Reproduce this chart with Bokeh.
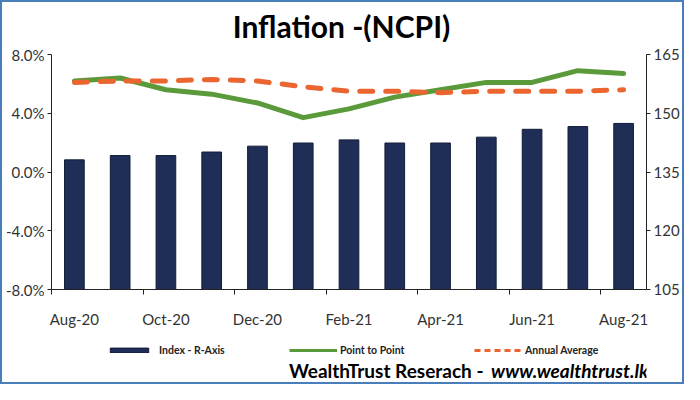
from bokeh.plotting import figure
from bokeh.layouts import column
from bokeh.models import (Range1d, LinearAxis, FixedTicker, PrintfTickFormatter, Label,
                          Legend, LegendItem, ColumnDataSource, CustomJSTickFormatter)
from bokeh.embed import file_html
from bokeh.resources import INLINE

# ---------------- data ----------------
months = ["Aug-20", "Sep-20", "Oct-20", "Nov-20", "Dec-20", "Jan-21", "Feb-21",
          "Mar-21", "Apr-21", "May-21", "Jun-21", "Jul-21", "Aug-21"]
index_values = [138.1, 139.2, 139.2, 140.1, 141.6, 142.4, 143.2,
                142.4, 142.4, 143.9, 145.9, 146.6, 147.4]
point_to_point = [6.2, 6.4, 5.6, 5.3, 4.7, 3.7, 4.3, 5.1, 5.6, 6.1, 6.1, 6.9, 6.7]
annual_average = [6.1, 6.2, 6.2, 6.3, 6.2, 5.8, 5.5, 5.5, 5.4, 5.5, 5.5, 5.5, 5.6]
left_ticks = [-8, -4, 0, 4, 8]
right_ticks = [105, 120, 135, 150, 165]

FONT = "Lato"
NAVY = "#1F2E57"
GREEN = "#5B9A3A"
ORANGE = "#EA6530"
AXIS = "#222222"
TXT = "#333333"
W = 680
BL, BR = 48, 34          # left / right borders shared by all stacked figures


def strip(height):
    f = figure(width=W, height=height, output_backend="svg", toolbar_location=None,
               x_range=Range1d(0, 1), y_range=Range1d(0, 1),
               x_axis_type=None, y_axis_type=None,
               min_border_left=BL, min_border_right=BR, min_border_top=0, min_border_bottom=0)
    f.outline_line_color = None
    f.background_fill_color = "white"
    f.border_fill_color = "white"
    return f


def label(fig, x, y, text, size, style="bold", align="center"):
    fig.add_layout(Label(x=x, y=y, x_units="screen", y_units="screen", text=text,
                         text_align=align, text_baseline="middle", text_font=FONT,
                         text_font_size=size, text_font_style=style, text_color="black"))


# ---------------- title strip ----------------
p0 = strip(40)
label(p0, 290, 17, "Inflation -(NCPI)", "30px")

# ---------------- main chart ----------------
n = len(months)
xs = [i + 0.5 for i in range(n)]
src = ColumnDataSource(dict(x=xs, idx=index_values, p2p=point_to_point, ann=annual_average))

p = figure(width=W, height=288, output_backend="svg", toolbar_location=None,
           x_range=Range1d(0, n), y_range=Range1d(left_ticks[0], left_ticks[-1]),
           x_axis_type=None, y_axis_type=None,
           min_border_left=BL, min_border_right=BR, min_border_top=12, min_border_bottom=36)
p.extra_y_ranges = {"idx": Range1d(right_ticks[0], right_ticks[-1])}
p.outline_line_color = None
p.background_fill_color = "white"
p.border_fill_color = "white"


def style_axis(ax, size="15px"):
    ax.axis_line_color = AXIS
    ax.axis_line_width = 1
    ax.major_tick_line_color = AXIS
    ax.major_tick_in = 0
    ax.major_tick_out = 4
    ax.minor_tick_line_color = None
    ax.major_label_text_font = FONT
    ax.major_label_text_font_size = size
    ax.major_label_text_color = TXT
    ax.major_label_standoff = 3


yl = LinearAxis(ticker=FixedTicker(ticks=left_ticks), formatter=PrintfTickFormatter(format="%.1f%%"))
style_axis(yl)
p.add_layout(yl, "left")

yr = LinearAxis(y_range_name="idx", ticker=FixedTicker(ticks=right_ticks))
style_axis(yr)
p.add_layout(yr, "right")

xa = LinearAxis(ticker=FixedTicker(ticks=xs[::2], minor_ticks=list(range(0, n, 2))),
                formatter=CustomJSTickFormatter(args=dict(labels=months),
                                                code="return labels[Math.floor(tick)] || ''"))
style_axis(xa)
xa.major_tick_line_color = None
xa.major_tick_out = 0
xa.minor_tick_line_color = AXIS
xa.minor_tick_in = 0
xa.minor_tick_out = 5
xa.major_label_standoff = 15
p.add_layout(xa, "below")

bars = p.vbar(x="x", top="idx", bottom=right_ticks[0], width=0.43, source=src, y_range_name="idx",
              fill_color=NAVY, line_color="#121c38", line_width=1)
green = p.line("x", "p2p", source=src, line_color=GREEN, line_width=5,
               line_join="round", line_cap="round")
orange = p.line("x", "ann", source=src, line_color=ORANGE, line_width=5, line_dash="13 13",
                line_cap="round", line_join="round")

# ---------------- legend + footer strip ----------------
p2 = strip(52)
nan = float("nan")
b_proxy = p2.vbar(x=[nan], top=[nan], bottom=[nan], width=0.1,
                  fill_color=NAVY, line_color="#121c38", line_width=1)
g_proxy = p2.line(x=[nan, nan], y=[nan, nan], line_color=GREEN, line_width=3)
o_proxy = p2.line(x=[nan, nan], y=[nan, nan], line_color=ORANGE, line_width=3, line_dash="6 4")


def add_legend(text, renderer, xloc, standoff):
    lg = Legend(items=[LegendItem(label=text, renderers=[renderer])], location=(xloc, 26),
                orientation="horizontal", glyph_width=48, glyph_height=6, label_height=12,
                label_standoff=standoff, padding=0, margin=0, spacing=0,
                border_line_color=None, background_fill_alpha=0,
                label_text_font=FONT, label_text_font_size="10.5px", label_text_font_style="bold",
                label_text_color="#222222")
    p2.add_layout(lg, "center")


add_legend("Index - R-Axis", b_proxy, 54, 6)
add_legend("Point to Point", g_proxy, 238, 3)
add_legend("Annual Average", o_proxy, 423, 3)

label(p2, 432, 12, "WealthTrust Reserach -", "19px", "bold", "right")
label(p2, 597, 12, "www.wealthtrust.lk", "19px", "bold italic", "right")

layout = column(p0, p, p2, spacing=0, styles={"border": "2px solid #4A7EBB"})

open("out.html", "w").write(file_html(layout, INLINE))
